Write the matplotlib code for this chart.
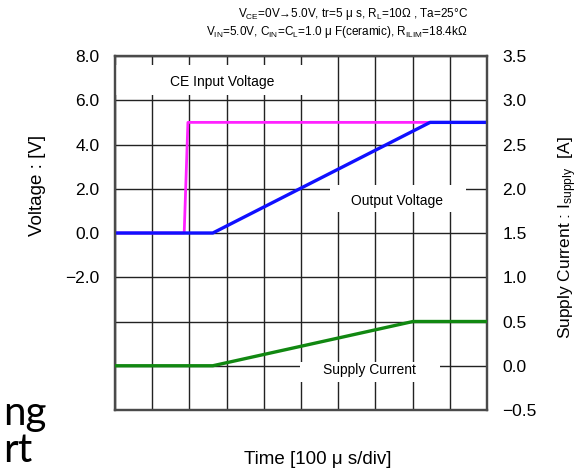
import matplotlib
matplotlib.use("Agg")
import matplotlib.pyplot as plt
from matplotlib.patches import Rectangle

plt.rcParams['font.family'] = ['Liberation Sans', 'DejaVu Sans']
plt.rcParams['mathtext.fontset'] = 'custom'
plt.rcParams['mathtext.rm'] = 'Liberation Sans'
plt.rcParams['mathtext.default'] = 'regular'

# time in divisions (100 us/div)
time_ce = [0, 1.86, 1.96, 10]
v_ce = [0, 0, 5.0, 5.0]

time_out = [0, 2.63, 8.47, 10]
v_out = [0, 0, 5.0, 5.0]

time_i = [0, 2.63, 8.01, 10]
i_supply = [0, 0, 0.5, 0.5]

v_ticks = [-8, -6, -4, -2, 0, 2, 4, 6, 8]
v_labels = ['', '', '', '\u22122.0', '0.0', '2.0', '4.0', '6.0', '8.0']
i_ticks = [-0.5, 0.0, 0.5, 1.0, 1.5, 2.0, 2.5, 3.0, 3.5]
i_labels = ['\u22120.5', '0.0', '0.5', '1.0', '1.5', '2.0', '2.5', '3.0', '3.5']

W, H = 579, 470
fig = plt.figure(figsize=(W / 100, H / 100), dpi=100)
ax = fig.add_axes([115 / W, 1 - 410 / H, 372 / W, 354 / H])
ax2 = ax.twinx()

ax.set_xlim(0, 10)
ax.set_ylim(-8, 8)
ax2.set_ylim(-0.5, 3.5)
ax.set_xticks(range(11))
ax.set_xticklabels([])
ax.set_yticks(v_ticks)
ax.set_yticklabels(v_labels, fontsize=12.5)
ax2.set_yticks(i_ticks)
ax2.set_yticklabels(i_labels, fontsize=12.5)
ax.tick_params(length=0, pad=11)
ax2.tick_params(length=0, pad=11)
ax.grid(True, color='#222222', linewidth=1.0)
ax.set_axisbelow(True)
for a in (ax, ax2):
    for s in a.spines.values():
        s.set_color('#4a4a4a')
        s.set_linewidth(1.6)

# white label backgrounds that break the grid
for (x0, x1, y0, y1) in [(0.03, 5.78, 6.24, 7.59), (5.78, 9.44, 0.94, 2.16), (4.97, 8.74, -6.75, -5.85)]:
    ax.add_patch(Rectangle((x0, y0), x1 - x0, y1 - y0, facecolor='white', edgecolor='none', zorder=1.5))

ax.plot(time_ce, v_ce, color='#ff22ff', linewidth=2.0, zorder=3)
ax.plot(time_out, v_out, color='#1010ff', linewidth=2.4, zorder=4)
ax2.plot(time_i, i_supply, color='#118811', linewidth=2.4, zorder=3)

ax.text(2.88, 6.82, 'CE Input Voltage', fontsize=10, ha='center', va='center', zorder=2)
ax.text(7.58, 1.44, 'Output Voltage', fontsize=10, ha='center', va='center', zorder=2)
ax.text(6.85, -6.21, 'Supply Current', fontsize=10, ha='center', va='center', zorder=2)

fig.text(468 / W, 1 - 14 / H,
         'V$_{CE}$=0V\u21925.0V, tr=5 \u03bc s, R$_{L}$=10\u03a9 , Ta=25\u00b0C',
         fontsize=8.5, ha='right', va='center')
fig.text(468 / W, 1 - 32 / H,
         'V$_{IN}$=5.0V, C$_{IN}$=C$_{L}$=1.0 \u03bc F(ceramic), R$_{ILIM}$=18.4k\u03a9',
         fontsize=8.5, ha='right', va='center')

fig.text(37 / W, 1 - 185 / H, 'Voltage : [V]', fontsize=13.5, rotation=90, ha='center', va='center')
fig.text(568 / W, 1 - 238 / H, 'Supply Current : I$_{supply}$  [A]', fontsize=12.5, rotation=90,
         ha='center', va='center')
fig.text(318 / W, 1 - 460 / H, 'Time [100 \u03bc s/div]', fontsize=13.5, ha='center', va='center')

# clipped slide text at the left edge
fig.text(3 / W, 1 - 425 / H, 'ng', fontsize=29, family=['Liberation Sans Narrow', 'Lato'],
         ha='left', va='baseline')
fig.text(3 / W, 1 - 462 / H, 'rt', fontsize=29, family=['Liberation Sans Narrow', 'Lato'],
         ha='left', va='baseline')

fig.savefig('out.png', dpi=100)
